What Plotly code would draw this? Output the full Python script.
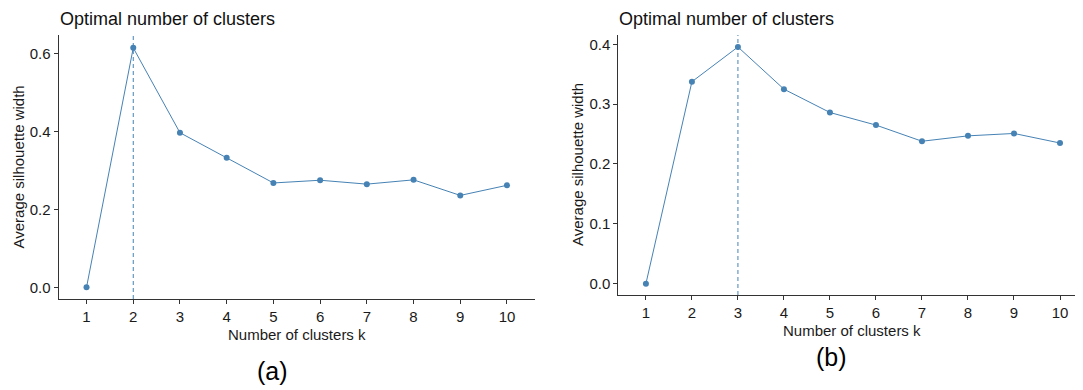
import plotly.graph_objects as go

k_values = [1, 2, 3, 4, 5, 6, 7, 8, 9, 10]
sil_a = [0.0, 0.615, 0.397, 0.333, 0.268, 0.275, 0.265, 0.276, 0.236, 0.262]
sil_b = [0.0, 0.3375, 0.3955, 0.325, 0.286, 0.265, 0.238, 0.247, 0.251, 0.235]
yticks_a = [0.0, 0.2, 0.4, 0.6]
yticks_b = [0.0, 0.1, 0.2, 0.3, 0.4]
panel_labels = ["(a)", "(b)"]
title_text = "Optimal number of clusters"
xlabel = "Number of clusters k"
ylabel = "Average silhouette width"

# the page body has an 8px margin; the figure fills the rest of the window
OFF = 8
W, H = 1083 - OFF, 390 - OFF
FONT = "Liberation Sans, Arial, sans-serif"
COL = "#4682B4"
AX = "#333333"
TXT = "#1a1a1a"


def px(x):
    return (x - OFF) / W


def py(y):
    return 1 - (y - OFF) / H


fig = go.Figure()

panels = [
    dict(x="x", y="y", data=sil_a, yt=yticks_a, yr=[-0.030, 0.648], xr=[0.4, 10.6],
         xd=[58.5, 535], yd=[299, 35], lab=panel_labels[0],
         lab_xy=(272, 371), ytitle_x=17.5, xtitle_y=334),
    dict(x="x2", y="y2", data=sil_b, yt=yticks_b, yr=[-0.0189, 0.4155], xr=[0.4, 10.5],
         xd=[618.3, 1083], yd=[295, 35], lab=panel_labels[1],
         lab_xy=(831, 357), ytitle_x=578, xtitle_y=330),
]

for i, p in enumerate(panels):
    fig.add_trace(go.Scatter(
        x=k_values, y=p["data"], mode="lines+markers",
        line=dict(color=COL, width=1),
        marker=dict(color=COL, size=6, symbol="circle"),
        xaxis=p["x"], yaxis=p["y"], showlegend=False, hoverinfo="x+y"))
    best = k_values[p["data"].index(max(p["data"]))]
    fig.add_shape(type="line", xref=p["x"], yref=p["y"] + " domain",
                  x0=best, x1=best, y0=0, y1=1,
                  line=dict(color=COL, width=1, dash="4px,3px"))
    suffix = "" if i == 0 else "2"
    fig.update_layout(**{
        "xaxis" + suffix: dict(
            domain=[px(p["xd"][0]), min(1.0, px(p["xd"][1]))], range=p["xr"],
            tickvals=k_values, ticktext=[str(k) for k in k_values],
            showline=True, linecolor=AX, linewidth=1, ticks="outside", ticklen=4,
            tickcolor=AX, showgrid=False, zeroline=False, anchor=p["y"],
            tickfont=dict(family=FONT, size=15, color=TXT), fixedrange=True,
            automargin=False),
        "yaxis" + suffix: dict(
            domain=[py(p["yd"][0]), py(p["yd"][1])], range=p["yr"], tickvals=p["yt"],
            ticktext=["%.1f" % v for v in p["yt"]], showline=True, linecolor=AX,
            linewidth=1, ticks="outside", ticklen=4, tickcolor=AX, showgrid=False,
            zeroline=False, anchor=p["x"], tickfont=dict(family=FONT, size=15, color=TXT),
            fixedrange=True, automargin=False),
    })
    x0px, x1px = p["xd"]
    fig.add_annotation(text=title_text, xref="paper", yref="paper",
                       x=px(x0px - 1), y=py(19), xanchor="left", yanchor="middle",
                       showarrow=False, font=dict(family=FONT, size=18, color="#111"))
    xc = (58.5 + 535) / 2 if i == 0 else 852
    fig.add_annotation(text=xlabel, xref="paper", yref="paper",
                       x=px(xc), y=py(p["xtitle_y"]),
                       xanchor="center", yanchor="middle", showarrow=False,
                       font=dict(family=FONT, size=15, color=TXT))
    ymid = (p["yd"][0] + p["yd"][1]) / 2
    fig.add_annotation(text=ylabel, xref="paper", yref="paper",
                       x=px(p["ytitle_x"]), y=py(ymid), textangle=-90,
                       xanchor="center", yanchor="middle", showarrow=False,
                       font=dict(family=FONT, size=15, color=TXT))
    fig.add_annotation(text=p["lab"], xref="paper", yref="paper",
                       x=px(p["lab_xy"][0]), y=py(p["lab_xy"][1]),
                       xanchor="center", yanchor="middle", showarrow=False,
                       font=dict(family=FONT, size=25, color="#000"))

fig.update_layout(width=W, height=H, margin=dict(l=0, r=0, t=0, b=0, pad=0),
                  paper_bgcolor="white", plot_bgcolor="white")

fig.write_html("out.html")
